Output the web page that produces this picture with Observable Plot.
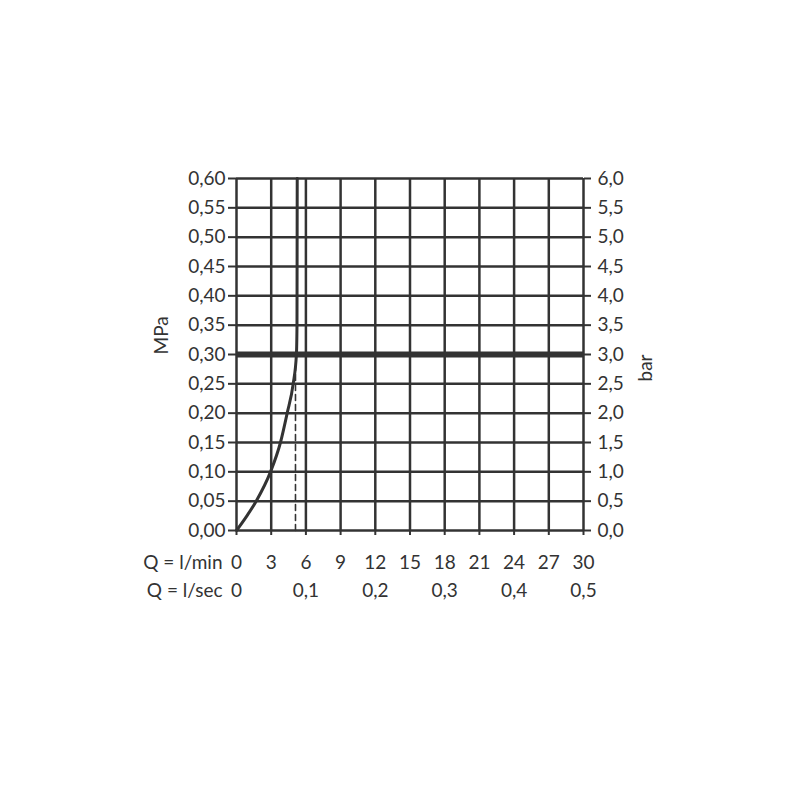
<!DOCTYPE html>
<html>
<head>
<meta charset="utf-8">
<script src="https://cdn.jsdelivr.net/npm/d3@7"></script>
<script src="https://cdn.jsdelivr.net/npm/@observablehq/plot@0.6"></script>
<style>
  html, body { margin: 0; padding: 0; background: #fff; }
  #chart { width: 800px; height: 800px; }
</style>
</head>
<body>
<div id="chart"></div>
<script>
// Flow in l/min (x) vs pressure in MPa (y)
const flowTicks = [0, 3, 6, 9, 12, 15, 18, 21, 24, 27, 30];
const secTicks = [0, 0.1, 0.2, 0.3, 0.4, 0.5];
const mpaTicks = [0, 0.05, 0.10, 0.15, 0.20, 0.25, 0.30, 0.35, 0.40, 0.45, 0.50, 0.55, 0.60];
const curveQ = [0, 0.9, 1.7, 2.94, 3.8, 4.38, 4.9, 5.18, 5.23, 5.25];
const curveP = [0, 0.025, 0.05, 0.10, 0.15, 0.20, 0.25, 0.30, 0.35, 0.60];
const dashQ = [5.1, 5.1];
const dashP = [0, 0.28];
const refPressure = [0.30];

const ink = "#333";
const fontFamily = "Lato, 'Noto Sans', sans-serif";
const fs = 19;
const comma = (v, d) => v.toFixed(d).replace(".", ",");

const curve = curveQ.map((q, i) => ({q, p: curveP[i]}));
const dash = dashQ.map((q, i) => ({q, p: dashP[i]}));

const chart = Plot.plot({
  width: 800,
  height: 800,
  marginLeft: 236,
  marginRight: 217,
  marginTop: 178,
  marginBottom: 270,
  style: {fontFamily, fontSize: fs + "px", color: ink, background: "#fff"},
  x: {type: "linear", domain: [0, 30], axis: null},
  y: {type: "linear", domain: [0, 0.6], axis: null},
  marks: [
    Plot.ruleX(flowTicks, {x: d => d, stroke: ink, strokeWidth: 2.5}),
    Plot.ruleY(mpaTicks, {y: d => d, stroke: ink, strokeWidth: 2.5}),
    Plot.axisY(mpaTicks, {anchor: "left", tickSize: 8, tickPadding: 3, tickFormat: d => comma(d, 2),
      stroke: ink, strokeWidth: 2, fill: ink, fontSize: fs, label: null}),
    Plot.axisY(mpaTicks, {anchor: "right", tickSize: 7, tickPadding: 7, tickFormat: d => comma(d * 10, 1),
      stroke: ink, strokeWidth: 2, fill: ink, fontSize: fs, label: null}),
    Plot.axisX(flowTicks, {anchor: "bottom", tickSize: 5, tickFormat: () => "", stroke: ink, strokeWidth: 2, label: null}),
    Plot.ruleY(refPressure, {y: d => d, stroke: ink, strokeWidth: 6}),
    Plot.line(dash, {x: "q", y: "p", stroke: ink, strokeWidth: 1.6, strokeDasharray: "6,4"}),
    Plot.line(curve, {x: "q", y: "p", stroke: ink, strokeWidth: 3, curve: "monotone-x"}),
    // bottom label rows
    Plot.text(flowTicks, {x: d => d, frameAnchor: "bottom", dy: 38, text: d => String(d), fill: ink, fontSize: fs}),
    Plot.text(secTicks, {x: d => d * 60, frameAnchor: "bottom", dy: 66, text: d => d === 0 ? "0" : comma(d, 1), fill: ink, fontSize: fs}),
    Plot.text(["Q = l/min"], {x: 0, frameAnchor: "bottom", dy: 38, dx: -14, textAnchor: "end", text: d => d, fill: ink, fontSize: fs}),
    Plot.text(["Q = l/sec"], {x: 0, frameAnchor: "bottom", dy: 66, dx: -14, textAnchor: "end", text: d => d, fill: ink, fontSize: fs}),
    // axis titles
    Plot.text(["MPa"], {frameAnchor: "left", dx: -75, rotate: -90, text: d => d, fill: ink, fontSize: fs}),
    Plot.text(["bar"], {frameAnchor: "right", dx: 62, rotate: -90, text: d => d, fill: ink, fontSize: fs})
  ]
});
document.getElementById("chart").appendChild(chart);
</script>
</body>
</html>
